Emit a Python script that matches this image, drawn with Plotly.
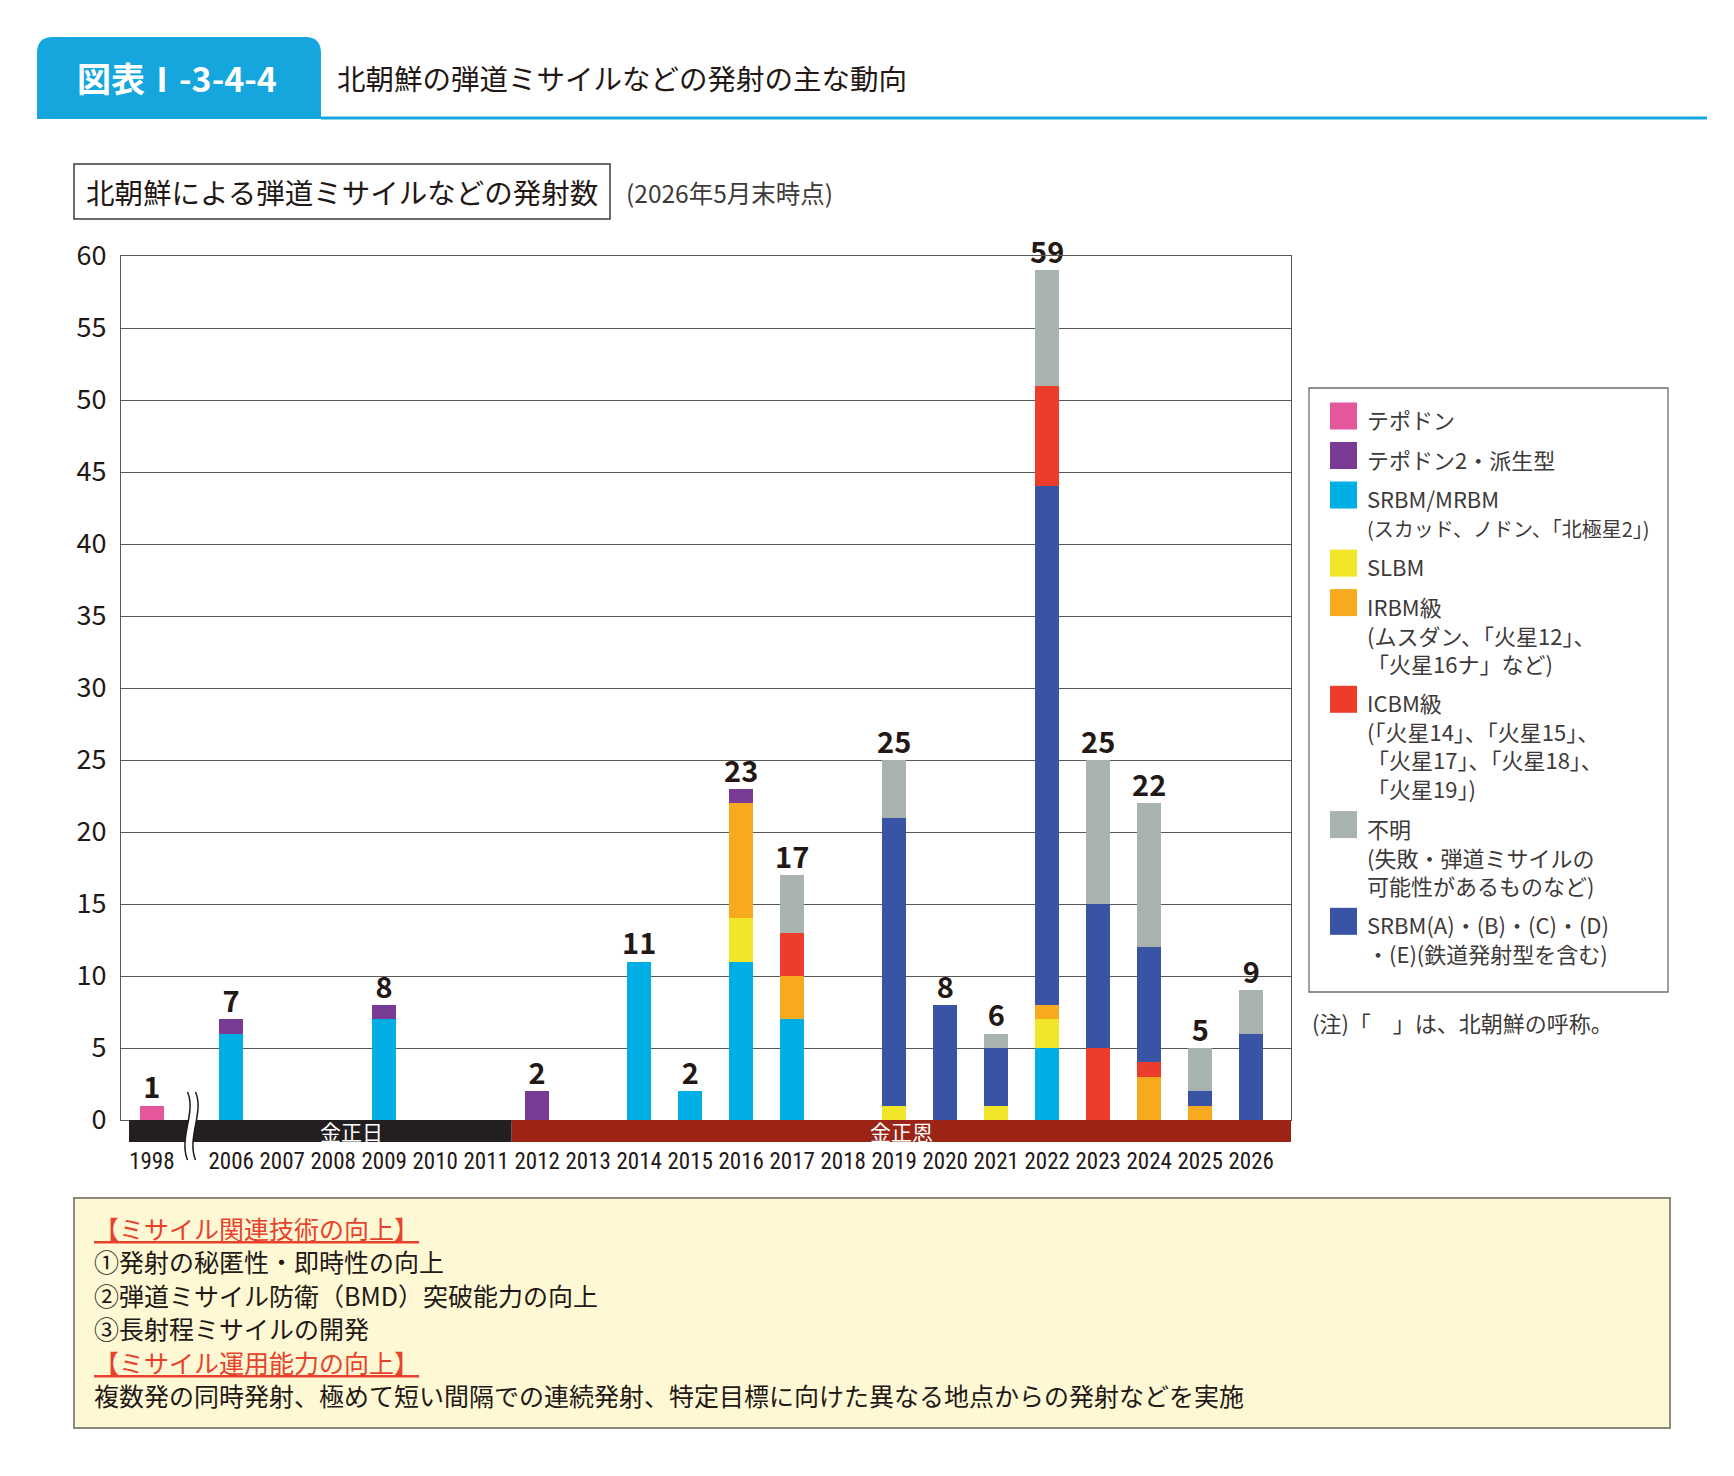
import plotly.graph_objects as go

# ---- data (number of launches per year) ----
YEARS = ["1998", "2006", "2007", "2008", "2009", "2010", "2011", "2012", "2013", "2014", "2015",
         "2016", "2017", "2018", "2019", "2020", "2021", "2022", "2023", "2024", "2025", "2026"]

TAEPODONG  = [1, 0, 0, 0, 0, 0, 0, 0, 0, 0, 0, 0, 0, 0, 0, 0, 0, 0, 0, 0, 0, 0]
TAEPODONG2 = [0, 1, 0, 0, 1, 0, 0, 2, 0, 0, 0, 1, 0, 0, 0, 0, 0, 0, 0, 0, 0, 0]
SRBM_MRBM  = [0, 6, 0, 0, 7, 0, 0, 0, 0, 11, 2, 11, 7, 0, 0, 0, 0, 5, 0, 0, 0, 0]
SLBM       = [0, 0, 0, 0, 0, 0, 0, 0, 0, 0, 0, 3, 0, 0, 1, 0, 1, 2, 0, 0, 0, 0]
IRBM       = [0, 0, 0, 0, 0, 0, 0, 0, 0, 0, 0, 8, 3, 0, 0, 0, 0, 1, 0, 3, 1, 0]
ICBM       = [0, 0, 0, 0, 0, 0, 0, 0, 0, 0, 0, 0, 3, 0, 0, 0, 0, 7, 5, 1, 0, 0]
UNKNOWN    = [0, 0, 0, 0, 0, 0, 0, 0, 0, 0, 0, 0, 4, 0, 4, 0, 1, 8, 10, 10, 3, 3]
SRBM_AE    = [0, 0, 0, 0, 0, 0, 0, 0, 0, 0, 0, 0, 0, 0, 20, 8, 4, 36, 10, 8, 1, 6]
ICBM_ABOVE_SRBM_AE = ["2022"]   # years where ICBM is stacked above SRBM(A)-(E)

ERAS = [("金正日", "1998", "2011"), ("金正恩", "2012", "2026")]

LEGEND_LABELS = [
    "テポドン",
    "テポドン2・派生型",
    "SRBM/MRBM<br><span style='font-size:20px'>(スカッド、ノドン、「北極星2」)</span>",
    "SLBM",
    "IRBM級<br>(ムスダン、「火星12」、<br>「火星16ナ」など)",
    "ICBM級<br>(「火星14」、「火星15」、<br>「火星17」、「火星18」、<br>「火星19」)",
    "不明<br>(失敗・弾道ミサイルの<br>可能性があるものなど)",
    "SRBM(A)・(B)・(C)・(D)<br>・(E)(鉄道発射型を含む)",
]
LEGEND_LINES = [1, 1, 2, 1, 3, 4, 3, 2]
C_PINK, C_PURPLE, C_CYAN, C_YELLOW = "#E4579B", "#7A3B96", "#00AEE6", "#F2E62A"
C_ORANGE, C_RED, C_GRAY, C_NAVY = "#F8AA1E", "#EC3C2C", "#A8B3AE", "#3953A5"
LEGEND_COLORS = [C_PINK, C_PURPLE, C_CYAN, C_YELLOW, C_ORANGE, C_RED, C_GRAY, C_NAVY]

# ---- geometry (pixel positions measured on the 1734x1476 reference) ----
PAGE_PAD = 8                      # default body margin of the html page
W, H = 1734 - 2 * PAGE_PAD, 1476 - 2 * PAGE_PAD
L, R, T, B = 121, 1291, 256, 1120
X_RANGE = [-2.16, 20.78]
BREAK_GAP = 1.555
FONT = "Noto Sans CJK JP"
YEAR_FONT = "Roboto Condensed, DejaVu Sans Condensed, Liberation Sans Narrow, Noto Sans CJK JP"
INK = "#231815"

xpos = [-BREAK_GAP if y == "1998" else int(y) - 2006 for y in YEARS]


def PX(p):
    return (p - L) / (R - L)


def PY(p):
    return (B - p) / (B - T)


def DX(v):
    return (v - X_RANGE[0]) / (X_RANGE[1] - X_RANGE[0])


def P(x, y):
    return f"{PX(x):.5f},{PY(y):.5f}"


icbm_low = [0 if y in ICBM_ABOVE_SRBM_AE else v for y, v in zip(YEARS, ICBM)]
icbm_high = [v if y in ICBM_ABOVE_SRBM_AE else 0 for y, v in zip(YEARS, ICBM)]

stack = [
    (TAEPODONG, C_PINK), (SRBM_MRBM, C_CYAN), (SLBM, C_YELLOW), (IRBM, C_ORANGE),
    (icbm_low, C_RED), (SRBM_AE, C_NAVY), (icbm_high, C_RED), (UNKNOWN, C_GRAY),
    (TAEPODONG2, C_PURPLE),
]

fig = go.Figure()
for vals, col in stack:
    fig.add_trace(go.Bar(x=xpos, y=vals, width=0.47, marker=dict(color=col, line_width=0),
                         showlegend=False, hoverinfo="y"))

totals = [sum(s[i] for s in [TAEPODONG, TAEPODONG2, SRBM_MRBM, SLBM, IRBM, ICBM, UNKNOWN, SRBM_AE])
          for i in range(len(YEARS))]
lx = [x for x, t in zip(xpos, totals) if t > 0]
ly = [t for t in totals if t > 0]
fig.add_trace(go.Scatter(x=lx, y=ly, mode="text", text=[f"<b>{t}</b>" for t in ly],
                         textposition="top center", cliponaxis=False, showlegend=False,
                         textfont=dict(family=FONT, size=29, color=INK), hoverinfo="skip"))

shapes = []
ann = []

# header tab + rule
r = 16
tab = (f"M{P(37,119)} L{P(37,37+r)} Q{P(37,37)} {P(37+r,37)} L{P(321-r,37)} "
       f"Q{P(321,37)} {P(321,37+r)} L{P(321,119)} Z")
shapes.append(dict(type="path", path=tab, xref="paper", yref="paper", fillcolor="#14A6DD", line_width=0))
shapes.append(dict(type="line", xref="paper", yref="paper", x0=PX(321), x1=PX(1707), y0=PY(118), y1=PY(118),
                   line=dict(color="#14A6DD", width=3)))
ann.append(dict(text="<b>図表Ⅰ-3-4-4</b>", x=PX(177), y=PY(78), xanchor="center", yanchor="middle",
                font=dict(family=FONT, size=34, color="white")))
ann.append(dict(text="北朝鮮の弾道ミサイルなどの発射の主な動向", x=PX(335), y=PY(78), xanchor="left",
                yanchor="middle", font=dict(family=FONT, size=28.5, color=INK)))

# subtitle box
shapes.append(dict(type="rect", xref="paper", yref="paper", x0=PX(74), x1=PX(610), y0=PY(164), y1=PY(219),
                   line=dict(color="#3E3A39", width=1.5), fillcolor="white"))
ann.append(dict(text="北朝鮮による弾道ミサイルなどの発射数", x=PX(342), y=PY(192), xanchor="center",
                yanchor="middle", font=dict(family=FONT, size=28.5, color=INK)))
ann.append(dict(text="(2026年5月末時点)", x=PX(624), y=PY(193), xanchor="left", yanchor="middle",
                font=dict(family=FONT, size=24.5, color="#3E3A39")))

# leader bands
def slot(year):
    return xpos[YEARS.index(year)]


era_bounds = [PX(129), DX((slot(ERAS[0][2]) + slot(ERAS[1][1])) / 2), 1.0]
era_cols = ["#231F20", "#9C2417"]
for i, (name, y0, y1) in enumerate(ERAS):
    shapes.append(dict(type="rect", xref="paper", yref="paper", x0=era_bounds[i], x1=era_bounds[i + 1],
                       y0=PY(1142), y1=PY(1120), fillcolor=era_cols[i], line_width=0, layer="above"))
    left = DX(-BREAK_GAP / 2) if i == 0 else era_bounds[i]
    ann.append(dict(text=name, x=(left + era_bounds[i + 1]) / 2, y=PY(1131), xanchor="center",
                    yanchor="middle", font=dict(family=FONT, size=21, color="white")))

# axis break mark
bx = L + DX(-BREAK_GAP / 2) * (R - L)
def wave(x0, ya, yb):
    return f"{P(x0, ya)} C{P(x0 + 9, ya + 20)} {P(x0 - 9, yb - 22)} {P(x0, yb)}"
g = 4
shapes.append(dict(type="path", xref="paper", yref="paper", layer="above", fillcolor="white", line_width=0,
                   path=f"M{wave(bx - g, 1092, 1160)} L{P(bx + g, 1160)} "
                        f"C{P(bx + g - 9, 1160 - 22)} {P(bx + g + 9, 1092 + 20)} {P(bx + g, 1092)} Z"))
for off in (-g, g):
    shapes.append(dict(type="path", xref="paper", yref="paper", layer="above",
                       path=f"M{wave(bx + off, 1092, 1160)}", line=dict(color=INK, width=1.5)))

# legend
shapes.append(dict(type="rect", xref="paper", yref="paper", x0=PX(1309), x1=PX(1668), y0=PY(388), y1=PY(992),
                   line=dict(color="#6D6D6D", width=1.3), fillcolor="white"))
ycur = 416
for lab, n, col in zip(LEGEND_LABELS, LEGEND_LINES, LEGEND_COLORS):
    shapes.append(dict(type="rect", xref="paper", yref="paper", x0=PX(1330), x1=PX(1357),
                       y0=PY(ycur + 13.5), y1=PY(ycur - 13.5), fillcolor=col, line_width=0))
    ann.append(dict(text=lab, x=PX(1365), y=PY(ycur - 15), xanchor="left", yanchor="top", align="left",
                    font=dict(family=FONT, size=22, color="#3E3A39")))
    ycur += 28.6 * (n - 1) + 39.5
ann.append(dict(text="(注)「　」は、北朝鮮の呼称。", x=PX(1310), y=PY(1022), xanchor="left", yanchor="middle",
                font=dict(family=FONT, size=22, color="#3E3A39")))

# bottom note box
shapes.append(dict(type="rect", xref="paper", yref="paper", x0=PX(74), x1=PX(1670), y0=PY(1428), y1=PY(1198),
                   line=dict(color="#8C8A7E", width=2), fillcolor="#FEF8D4"))
NOTE_LINES = [
    ("<u>【ミサイル関連技術の向上】</u>", "#E8412C"),
    ("①発射の秘匿性・即時性の向上", INK),
    ("②弾道ミサイル防衛（BMD）突破能力の向上", INK),
    ("③長射程ミサイルの開発", INK),
    ("<u>【ミサイル運用能力の向上】</u>", "#E8412C"),
    ("複数発の同時発射、極めて短い間隔での連続発射、特定目標に向けた異なる地点からの発射などを実施", INK),
]
for k, (t, c) in enumerate(NOTE_LINES):
    ann.append(dict(text=t, x=PX(92), y=PY(1228 + 33.4 * k), xanchor="left", yanchor="middle",
                    font=dict(family=FONT, size=25, color=c)))

for a in ann:
    a.update(xref="paper", yref="paper", showarrow=False)

fig.update_layout(
    width=W, height=H, barmode="stack", showlegend=False,
    margin=dict(l=L - PAGE_PAD, r=W - (R - PAGE_PAD), t=T - PAGE_PAD, b=H - (B - PAGE_PAD), pad=0),
    paper_bgcolor="white", plot_bgcolor="white",
    shapes=shapes, annotations=ann,
    xaxis=dict(range=X_RANGE, tickvals=xpos, ticktext=YEARS, showgrid=False, zeroline=False,
               showline=True, mirror=True, linecolor="#595757", linewidth=1.3, ticks="", tickangle=0,
               ticklabelstandoff=20, tickfont=dict(family=YEAR_FONT, size=23, color=INK)),
    yaxis=dict(range=[0, 60], dtick=5, showgrid=True, gridcolor="#595757", gridwidth=1.2, zeroline=False,
               showline=True, mirror=True, linecolor="#595757", linewidth=1.3, ticks="",
               ticklabelstandoff=8, tickfont=dict(family=FONT, size=27, color=INK)),
)

fig.write_html("out.html")
